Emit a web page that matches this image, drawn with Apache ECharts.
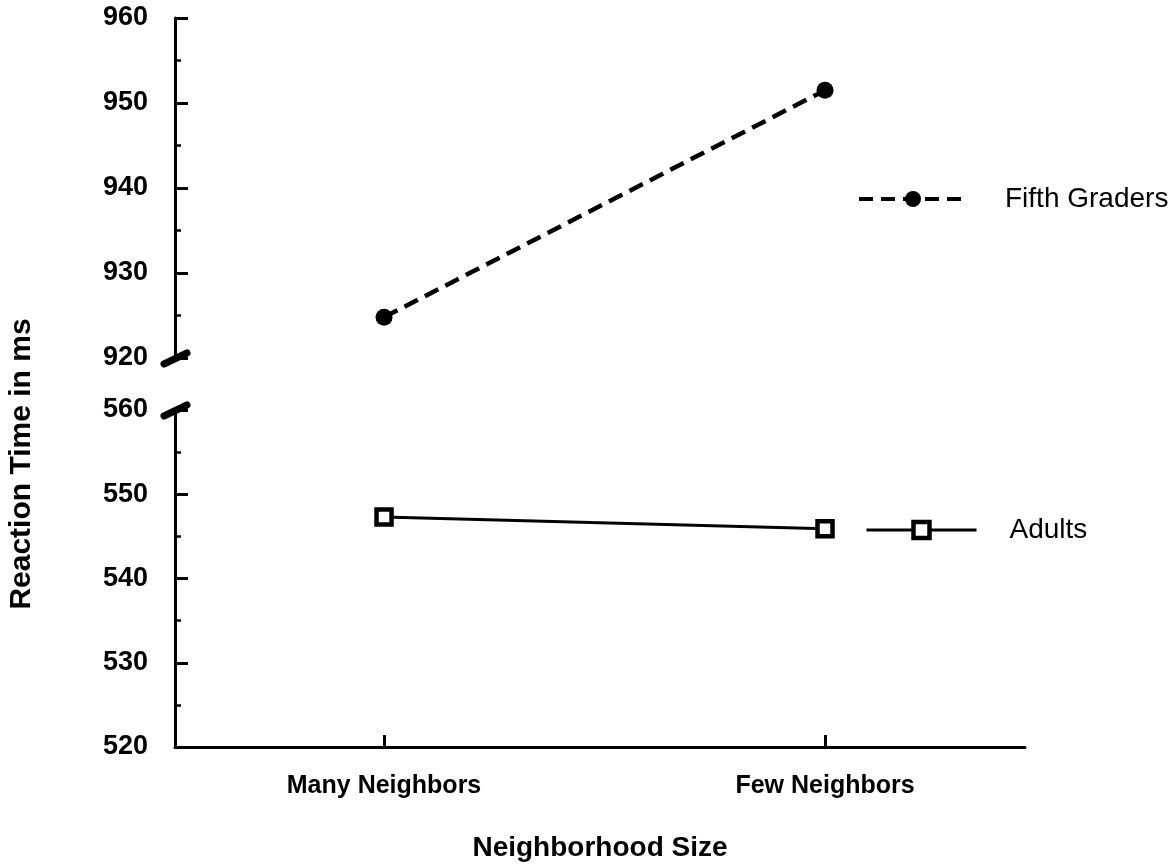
<!DOCTYPE html>
<html>
<head>
<meta charset="utf-8">
<script src="https://cdn.jsdelivr.net/npm/echarts@6/dist/echarts.min.js"></script>
<style>
html,body{margin:0;padding:0;background:#fff;}
#chart{width:1174px;height:868px;}
</style>
</head>
<body>
<div id="chart"></div>
<script>
// ---- data ----
const categories = ['Many Neighbors', 'Few Neighbors'];
const fifthGraders = [924.8, 951.5];
const adults = [547.3, 545.9];
const upperRange = [920, 960];
const lowerRange = [520, 560];
const yTitle = 'Reaction Time in ms';
const xTitle = 'Neighborhood Size';

const FONT = 'Liberation Sans, Arial, sans-serif';
const X_MIN = -0.474, X_MAX = 1.4535;

const chart = echarts.init(document.getElementById('chart'), null, {renderer: 'canvas'});

function yAxisCfg(grid, range) {
  return {
    type: 'value', gridIndex: grid, min: range[0], max: range[1], interval: 10,
    axisLine: {show: true, onZero: false, lineStyle: {color: '#000', width: 3}},
    axisTick: {show: true, inside: true, length: 13, lineStyle: {color: '#000', width: 3}},
    minorTick: {show: true, splitNumber: 2, length: 6, lineStyle: {color: '#000', width: 2.5}},
    axisLabel: {color: '#000', fontSize: 27, fontWeight: 'bold', fontFamily: FONT, margin: 27},
    splitLine: {show: false}
  };
}

const option = {
  animation: false,
  backgroundColor: '#fff',
  textStyle: {fontFamily: FONT, color: '#000'},
  grid: [
    {left: 175, right: 149, top: 18, height: 340},
    {left: 175, right: 149, top: 410, height: 337}
  ],
  xAxis: [
    {type: 'value', gridIndex: 0, min: X_MIN, max: X_MAX, show: false},
    {
      type: 'value', gridIndex: 1, min: X_MIN, max: X_MAX,
      axisLine: {show: true, onZero: false, lineStyle: {color: '#000', width: 3}},
      axisTick: {show: true, inside: true, length: 12, customValues: [0, 1], lineStyle: {color: '#000', width: 3}},
      axisLabel: {customValues: [0, 1], formatter: v => categories[Math.round(v)] || '',
                  color: '#000', fontSize: 25, fontWeight: 'bold', fontFamily: FONT, margin: 27},
      splitLine: {show: false},
      name: xTitle, nameLocation: 'middle', nameGap: 87,
      nameTextStyle: {color: '#000', fontSize: 28, fontWeight: 'bold', fontFamily: FONT}
    }
  ],
  yAxis: [yAxisCfg(0, upperRange), yAxisCfg(1, lowerRange)],
  legend: [
    {
      data: ['Fifth Graders'], left: 852, top: 180, itemWidth: 108, itemHeight: 20,
      lineStyle: {width: 4, type: [14, 8]},
      textStyle: {color: '#000', fontSize: 28, fontFamily: FONT, padding: [0, 0, 0, 33]}
    },
    {
      data: ['Adults'], left: 860, top: 511, itemWidth: 110, itemHeight: 20,
      lineStyle: {width: 3},
      itemStyle: {borderWidth: 4.5},
      textStyle: {color: '#000', fontSize: 28, fontFamily: FONT, padding: [0, 0, 0, 28]}
    }
  ],
  series: [
    {
      name: 'Fifth Graders', type: 'line', xAxisIndex: 0, yAxisIndex: 0,
      data: fifthGraders.map((v, i) => [i, v]),
      symbol: 'circle', symbolSize: 17,
      itemStyle: {color: '#000'},
      lineStyle: {color: '#000', width: 4.5, type: [15, 8]}
    },
    {
      name: 'Adults', type: 'line', xAxisIndex: 1, yAxisIndex: 1,
      data: adults.map((v, i) => [i, v]),
      symbol: 'rect', symbolSize: 15,
      itemStyle: {color: '#fff', borderColor: '#000', borderWidth: 4.5},
      lineStyle: {color: '#000', width: 3}
    }
  ]
};
chart.setOption(option);

// axis-break marks at the ends of the two segments
const p1 = chart.convertToPixel({gridIndex: 0}, [X_MIN, upperRange[0]]);
const p2 = chart.convertToPixel({gridIndex: 1}, [X_MIN, lowerRange[1]]);
function breakMark(p) {
  return {
    type: 'line', z: 100,
    shape: {x1: p[0] - 11, y1: p[1] + 6, x2: p[0] + 12, y2: p[1] - 5},
    style: {stroke: '#000', lineWidth: 7, lineCap: 'round'}
  };
}
chart.setOption({
  graphic: [
    breakMark(p1), breakMark(p2),
    {
      type: 'text', x: 22, y: 464, rotation: Math.PI / 2,
      style: {text: yTitle, font: 'bold 30px ' + FONT, fill: '#000',
              textAlign: 'center', textVerticalAlign: 'middle'}
    }
  ]
});
</script>
</body>
</html>
